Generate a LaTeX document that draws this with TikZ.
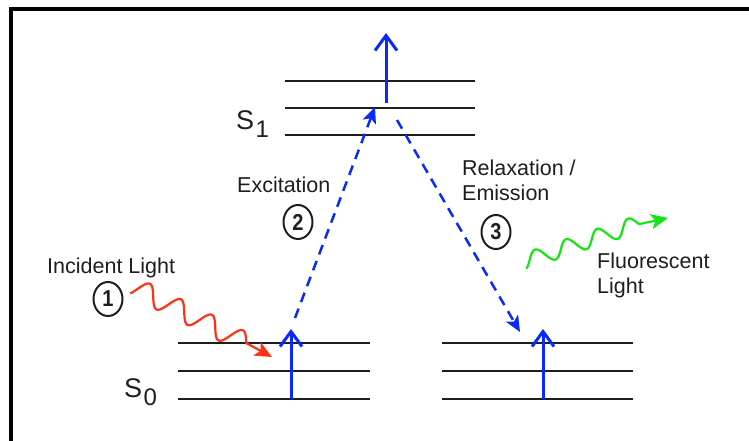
\documentclass[tikz,border=0pt]{standalone}
\usepackage{fontspec}
\setmainfont{Liberation Sans}
\usetikzlibrary{arrows.meta,shapes.geometric,calc}
\definecolor{eblue}{RGB}{10,40,255}
\definecolor{ered}{RGB}{255,50,20}
\definecolor{egreen}{RGB}{20,230,20}
\definecolor{ink}{RGB}{30,30,30}
\begin{document}
\begin{tikzpicture}[x=1pt,y=-1pt,
  frame/.style={line width=4pt, black, line join=miter},
  level/.style={line width=1.3pt, ink},
  uparrow/.style={eblue, line width=3pt, -{Straight Barb[length=15pt,width=22pt]}},
  trans/.style={eblue, line width=2.5pt, dash pattern=on 10pt off 7pt, -{Stealth[length=16pt,width=14pt,inset=4pt]}},
  wave/.style={line width=2.2pt, line join=round, -{Stealth[length=17pt,width=15pt,inset=4pt]}},
  lbl/.style={inner sep=0pt, anchor=base west, font=\fontsize{21.5}{26}\selectfont, text=ink},
  slbl/.style={inner sep=0pt, anchor=base west, font=\fontsize{27}{30}\selectfont, text=ink},
  sub/.style={inner sep=0pt, anchor=base west, font=\fontsize{24}{28}\selectfont, text=ink},
  num/.style={draw=ink, ellipse, line width=2pt, minimum width=29pt, minimum height=34pt, inner sep=0pt, text=ink, font=\fontsize{20}{20}\selectfont\bfseries}
]
\useasboundingbox (0,0) rectangle (749,441);
% frame
\coordinate (fb) at (11,441);
\coordinate (fc) at (11,9);
\coordinate (fr) at (749,9);
\draw[frame] (fb) -- (fc) -- (fr);

% S1 levels
\foreach \n/\y in {a/81,b/108,c/135}{
  \coordinate (s1\n l) at (285,\y);
  \coordinate (s1\n r) at (475,\y);
  \draw[level] (s1\n l) -- (s1\n r);
}
% S0 left levels
\foreach \n/\y in {a/343,b/371,c/399}{
  \coordinate (s0\n l) at (178,\y);
  \coordinate (s0\n r) at (370,\y);
  \draw[level] (s0\n l) -- (s0\n r);
}
% S0 right levels
\foreach \n/\y in {a/343,b/371,c/399}{
  \coordinate (t0\n l) at (442,\y);
  \coordinate (t0\n r) at (633,\y);
  \draw[level] (t0\n l) -- (t0\n r);
}

% labels S1, S0
\node[slbl] (S1) at (236,130) {S};
\node[sub] (S1s) at ([xshift=1pt,yshift=-8pt]S1.base east) {1};
\node[slbl] (S0) at (124,397) {S};
\node[sub] (S0s) at ([xshift=1pt,yshift=-8pt]S0.base east) {0};

% vertical arrows
\coordinate (u1a) at (386,103); \coordinate (u1b) at (386,33);
\coordinate (u2a) at (291,399); \coordinate (u2b) at (291,329);
\coordinate (u3a) at (543,399); \coordinate (u3b) at (543,329);
\draw[uparrow] (u1a) -- (u1b);
\draw[uparrow] (u2a) -- (u2b);
\draw[uparrow] (u3a) -- (u3b);

% transitions
\coordinate (e0) at (295,318); \coordinate (e1) at (375,107);
\coordinate (r0) at (397,120); \coordinate (r1) at (520,332);
\draw[trans] (e0) -- (e1);
\draw[trans] (r0) -- (r1);

% wavy light arrows
\coordinate (w1b) at (272,357);
\coordinate (w2b) at (668,218);
\draw[ered, wave] plot[domain=4:130, samples=127, smooth]
  ({130+0.894*\x+4.47*sin((\x-8.6)*10.375)}, {285+0.447*\x-8.94*sin((\x-8.6)*10.375)}) -- (w1b);
\draw[egreen, wave] plot[domain=1:122, samples=122, smooth]
  ({523+0.949*\x-2.53*sin((\x-7.1)*11.01)}, {262-0.316*\x-7.59*sin((\x-7.1)*11.01)}) -- (w2b);

% texts
\node[lbl] (inc) at (47,273) {Incident Light};
\node[lbl] (exc) at (237,192) {Excitation};
\node[lbl] (rel) at (462,175) {Relaxation /};
\node[lbl] (emi) at (462,200) {Emission};
\node[lbl] (flu) at (597,268) {Fluorescent};
\node[lbl] (lig) at (597,293) {Light};

% numbered ellipses
\node[num] (n1) at (108,299) {\scalebox{1}[1.15]{1}};
\node[num] (n2) at (298,222) {\scalebox{1}[1.15]{2}};
\node[num] (n3) at (496,232) {\scalebox{1}[1.15]{3}};
\end{tikzpicture}
\end{document}
